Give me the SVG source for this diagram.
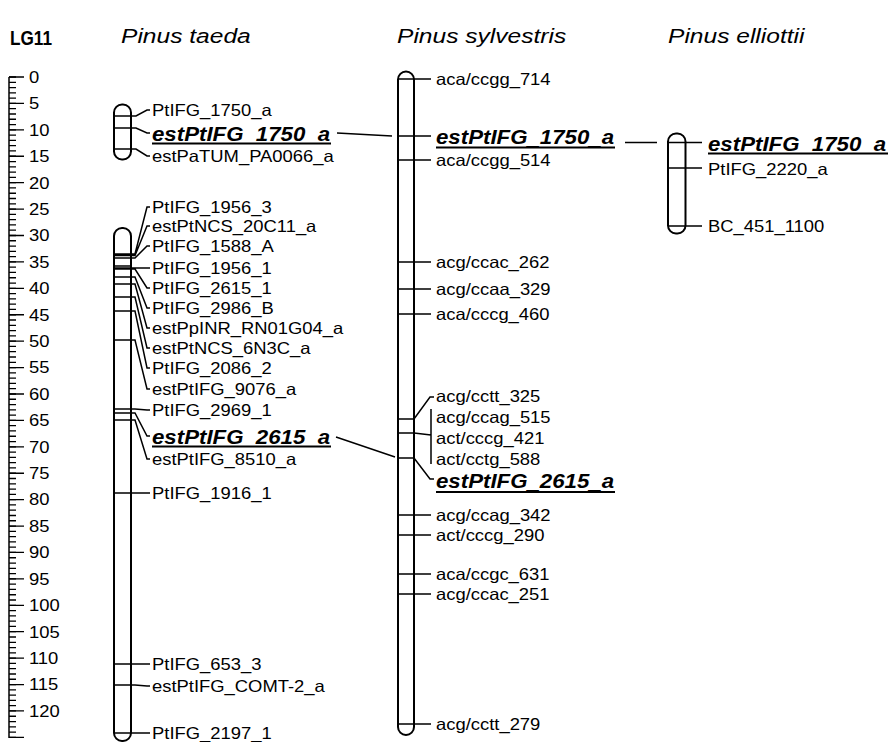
<svg xmlns="http://www.w3.org/2000/svg" width="893" height="742" viewBox="0 0 893 742">
<style>
.ln{stroke:#000;stroke-width:1.5;fill:none}
.chr{fill:#fff;stroke:#000;stroke-width:2}
.t{font-family:"Liberation Sans",Arial,sans-serif;font-size:16.3px;fill:#000}
.b{font-family:"Liberation Sans",Arial,sans-serif;font-size:21px;font-weight:bold;font-style:italic;fill:#000}
.ti{font-family:"Liberation Sans",Arial,sans-serif;font-size:21px;font-style:italic;fill:#000}
.hd{font-family:"Liberation Sans",Arial,sans-serif;font-size:20px;font-weight:bold;fill:#000}
.ul{stroke:#000;stroke-width:2}
</style>
<rect width="893" height="742" fill="#fff"/>

<g id="titles">
<text class="hd" transform="translate(10,45) scale(0.86,1)">LG11</text>
<text class="ti" transform="translate(121,43) scale(1.17,1)">Pinus taeda</text>
<text class="ti" transform="translate(397,43) scale(1.17,1)">Pinus sylvestris</text>
<text class="ti" transform="translate(668,43) scale(1.17,1)">Pinus elliottii</text>
</g>

<g id="ruler">
<line x1="9" y1="77" x2="9" y2="738" stroke="#000" stroke-width="1.5"/>
<line x1="12.5" y1="76.35" x2="12.5" y2="738" stroke="#000" stroke-width="7" stroke-dasharray="1.3 3.983"/>
<line x1="16.5" y1="76.35" x2="16.5" y2="738" stroke="#000" stroke-width="15" stroke-dasharray="1.3 25.115"/>
<g class="t">
<text transform="translate(29,82.8) scale(1.13,1)">0</text>
<text transform="translate(29,109.2) scale(1.13,1)">5</text>
<text transform="translate(29,135.6) scale(1.13,1)">10</text>
<text transform="translate(29,162) scale(1.13,1)">15</text>
<text transform="translate(29,188.5) scale(1.13,1)">20</text>
<text transform="translate(29,214.9) scale(1.13,1)">25</text>
<text transform="translate(29,241.3) scale(1.13,1)">30</text>
<text transform="translate(29,267.7) scale(1.13,1)">35</text>
<text transform="translate(29,294.1) scale(1.13,1)">40</text>
<text transform="translate(29,320.5) scale(1.13,1)">45</text>
<text transform="translate(29,347) scale(1.13,1)">50</text>
<text transform="translate(29,373.4) scale(1.13,1)">55</text>
<text transform="translate(29,399.8) scale(1.13,1)">60</text>
<text transform="translate(29,426.2) scale(1.13,1)">65</text>
<text transform="translate(29,452.6) scale(1.13,1)">70</text>
<text transform="translate(29,479) scale(1.13,1)">75</text>
<text transform="translate(29,505.4) scale(1.13,1)">80</text>
<text transform="translate(29,531.9) scale(1.13,1)">85</text>
<text transform="translate(29,558.3) scale(1.13,1)">90</text>
<text transform="translate(29,584.7) scale(1.13,1)">95</text>
<text transform="translate(29,611.1) scale(1.13,1)">100</text>
<text transform="translate(29,637.5) scale(1.13,1)">105</text>
<text transform="translate(29,663.9) scale(1.13,1)">110</text>
<text transform="translate(29,690.3) scale(1.13,1)">115</text>
<text transform="translate(29,716.8) scale(1.13,1)">120</text>
</g>
</g>

<g id="taeda-top">
<rect class="chr" x="114" y="104.5" width="17" height="55" rx="8" ry="8"/>
<path class="ln" d="M114,116H136L147,110H150 M114,128H136L147,133H150 M114,149H136L147,156H150"/>
<text class="t" transform="translate(152,115.8) scale(1.13,1)">PtIFG_1750_a</text>
<text class="b" transform="translate(152,140.5) scale(1.06,1)">estPtIFG_1750_a</text>
<line class="ul" x1="152" y1="143.5" x2="331" y2="143.5"/>
<text class="t" transform="translate(152,161.8) scale(1.13,1)">estPaTUM_PA0066_a</text>
</g>

<g id="taeda-main">
<rect class="chr" x="114" y="228" width="17" height="513" rx="8" ry="8"/>
<path class="ln" d="M114,254H135L147,207H150 M114,255.5H135L147,226H150 M114,258H135L147,246H150 M114,266H131 M114,268H150 M114,269H135L147,288H150 M114,277H135L147,308H150 M114,284H135L147,328H150 M114,297H135L147,348H150 M114,311H135L147,368H150 M114,340H135L147,389H150 M114,409H135L147,410H150 M114,413H135L147,436H150 M114,420H135L147,459H150 M114,493H150 M114,664H150 M114,685H135L147,686H150 M114,733H150"/>
<g class="t">
<text transform="translate(152,212.8) scale(1.13,1)">PtIFG_1956_3</text>
<text transform="translate(152,231.8) scale(1.13,1)">estPtNCS_20C11_a</text>
<text transform="translate(152,251.8) scale(1.13,1)">PtIFG_1588_A</text>
<text transform="translate(152,273.8) scale(1.13,1)">PtIFG_1956_1</text>
<text transform="translate(152,293.8) scale(1.13,1)">PtIFG_2615_1</text>
<text transform="translate(152,313.8) scale(1.13,1)">PtIFG_2986_B</text>
<text transform="translate(152,333.8) scale(1.13,1)">estPpINR_RN01G04_a</text>
<text transform="translate(152,353.8) scale(1.13,1)">estPtNCS_6N3C_a</text>
<text transform="translate(152,373.8) scale(1.13,1)">PtIFG_2086_2</text>
<text transform="translate(152,394.8) scale(1.13,1)">estPtIFG_9076_a</text>
<text transform="translate(152,415.8) scale(1.13,1)">PtIFG_2969_1</text>
<text transform="translate(152,464.8) scale(1.13,1)">estPtIFG_8510_a</text>
<text transform="translate(152,498.8) scale(1.13,1)">PtIFG_1916_1</text>
<text transform="translate(152,669.8) scale(1.13,1)">PtIFG_653_3</text>
<text transform="translate(152,691.8) scale(1.13,1)">estPtIFG_COMT-2_a</text>
<text transform="translate(152,738.8) scale(1.13,1)">PtIFG_2197_1</text>
</g>
<text class="b" transform="translate(152,443.5) scale(1.06,1)">estPtIFG_2615_a</text>
<line class="ul" x1="152" y1="446.5" x2="331" y2="446.5"/>
</g>

<g id="sylvestris">
<rect class="chr" x="398" y="71.5" width="16" height="663.5" rx="8" ry="8"/>
<path class="ln" d="M398,79H431 M398,136H431 M398,160H431 M398,262H431 M398,289H431 M398,314H431 M398,419H414L430,397H434 M398,433H414L431,435 M431,409V464 M398,458H414L430,479H434 M398,515H431 M398,535H431 M398,574H431 M398,594H431 M398,724H431"/>
<g class="t">
<text transform="translate(436,84.8) scale(1.13,1)">aca/ccgg_714</text>
<text transform="translate(436,165.8) scale(1.13,1)">aca/ccgg_514</text>
<text transform="translate(436,267.8) scale(1.13,1)">acg/ccac_262</text>
<text transform="translate(436,294.8) scale(1.13,1)">acg/ccaa_329</text>
<text transform="translate(436,319.8) scale(1.13,1)">aca/cccg_460</text>
<text transform="translate(436,401.8) scale(1.13,1)">acg/cctt_325</text>
<text transform="translate(436,422.8) scale(1.13,1)">acg/ccag_515</text>
<text transform="translate(436,443.8) scale(1.13,1)">act/cccg_421</text>
<text transform="translate(436,464.8) scale(1.13,1)">act/cctg_588</text>
<text transform="translate(436,520.8) scale(1.13,1)">acg/ccag_342</text>
<text transform="translate(436,540.8) scale(1.13,1)">act/cccg_290</text>
<text transform="translate(436,579.8) scale(1.13,1)">aca/ccgc_631</text>
<text transform="translate(436,599.8) scale(1.13,1)">acg/ccac_251</text>
<text transform="translate(436,729.8) scale(1.13,1)">acg/cctt_279</text>
</g>
<text class="b" transform="translate(436,144) scale(1.06,1)">estPtIFG_1750_a</text>
<line class="ul" x1="436" y1="147.5" x2="615" y2="147.5"/>
<text class="b" transform="translate(436,488) scale(1.06,1)">estPtIFG_2615_a</text>
<line class="ul" x1="436" y1="492" x2="615" y2="492"/>
</g>

<g id="elliottii">
<rect class="chr" x="668" y="133.5" width="17.5" height="100" rx="8" ry="8"/>
<path class="ln" d="M668,142.5H702 M668,168H702 M668,226H702"/>
<text class="b" transform="translate(708,150.5) scale(1.06,1)">estPtIFG_1750_a</text>
<line class="ul" x1="708" y1="153.5" x2="888" y2="153.5"/>
<text class="t" transform="translate(708,174.8) scale(1.13,1)">PtIFG_2220_a</text>
<text class="t" transform="translate(708,231.8) scale(1.13,1)">BC_451_1100</text>
</g>

<g id="connectors">
<path class="ln" d="M337,133L392,136 M336,437L395,457 M625,142.5H657"/>
</g>
</svg>
